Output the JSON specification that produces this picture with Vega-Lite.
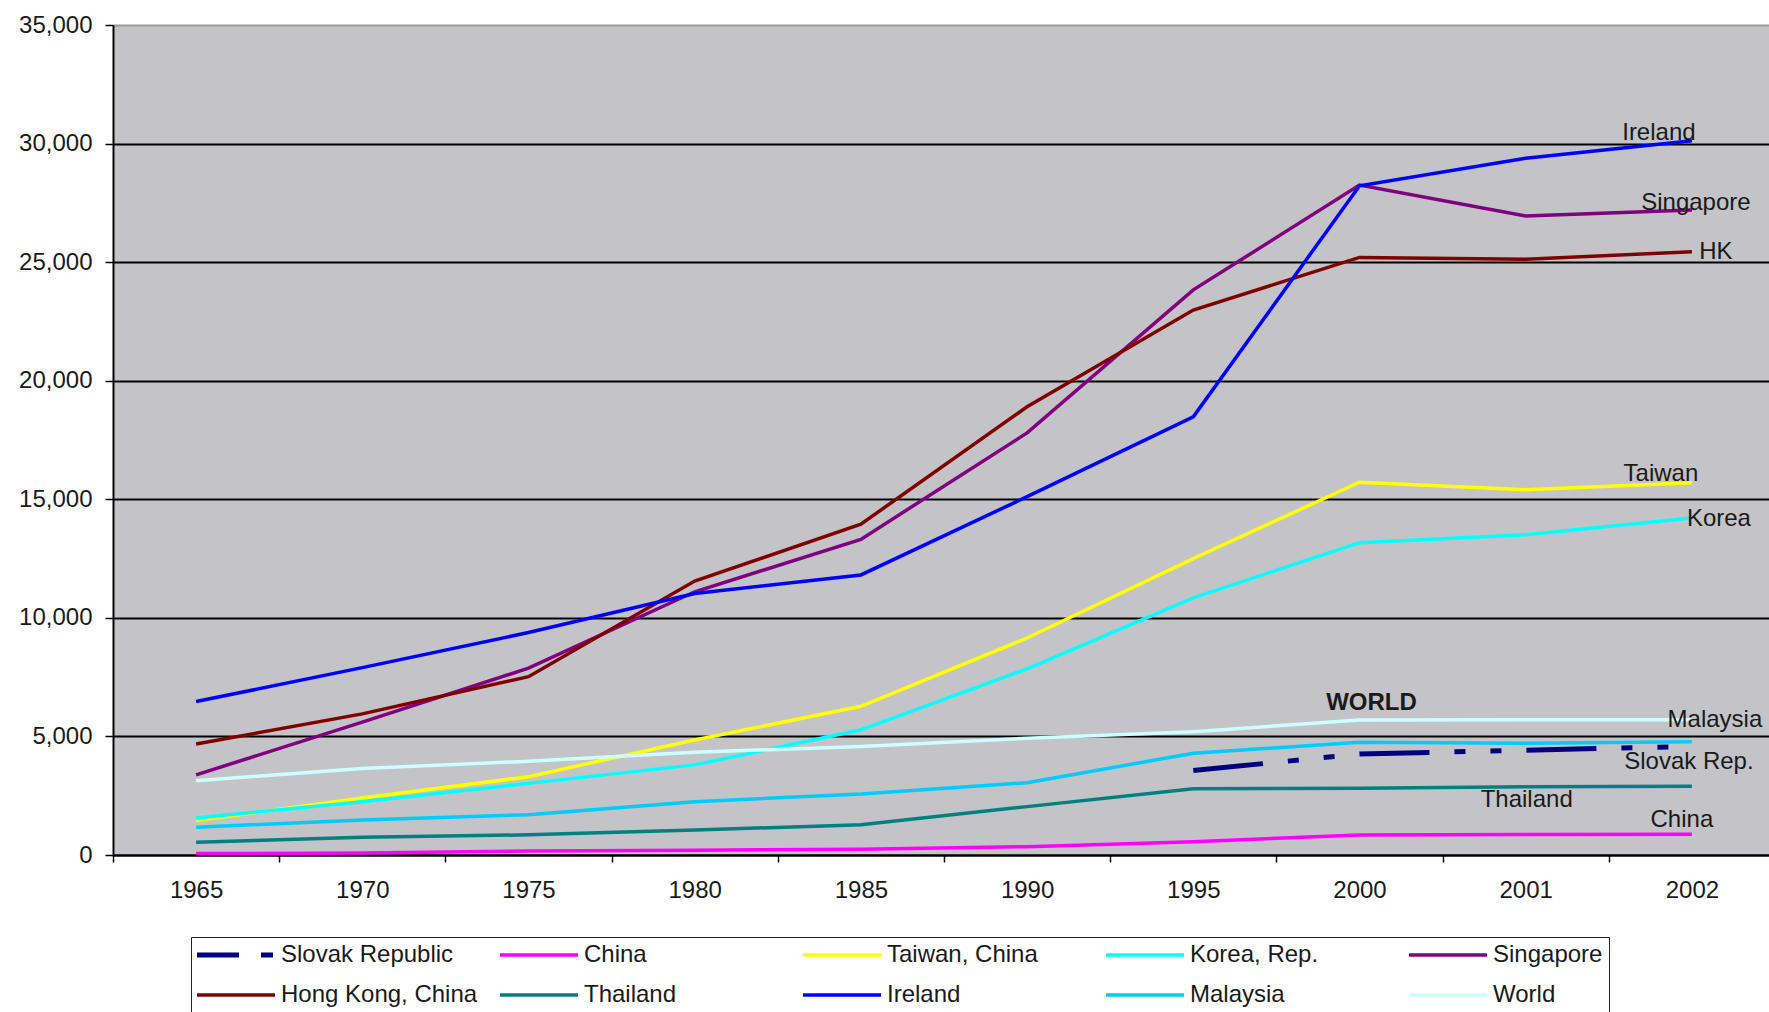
{
  "$schema": "https://vega.github.io/schema/vega-lite/v6.json",
  "width": 1656,
  "height": 830,
  "autosize": {"type": "none"},
  "padding": {"left": 113, "top": 25, "right": 0, "bottom": 157},
  "background": "white",
  "config": {
    "view": {"fill": "#C4C3C7", "stroke": null},
    "font": "Liberation Sans",
    "text": {"font": "Liberation Sans", "fontSize": 24, "color": "#1a1a1a"}
  },
  "datasets": {
    "gdp": [
      {"country": "Slovak Republic", "year": "1995", "gdp": 3560},
      {"country": "Slovak Republic", "year": "2000", "gdp": 4260},
      {"country": "Slovak Republic", "year": "2001", "gdp": 4420},
      {"country": "Slovak Republic", "year": "2002", "gdp": 4580},

      {"country": "China", "year": "1965", "gdp": 60},
      {"country": "China", "year": "1970", "gdp": 80},
      {"country": "China", "year": "1975", "gdp": 170},
      {"country": "China", "year": "1980", "gdp": 200},
      {"country": "China", "year": "1985", "gdp": 240},
      {"country": "China", "year": "1990", "gdp": 350},
      {"country": "China", "year": "1995", "gdp": 560},
      {"country": "China", "year": "2000", "gdp": 845},
      {"country": "China", "year": "2001", "gdp": 860},
      {"country": "China", "year": "2002", "gdp": 870},

      {"country": "Taiwan, China", "year": "1965", "gdp": 1450},
      {"country": "Taiwan, China", "year": "1970", "gdp": 2400},
      {"country": "Taiwan, China", "year": "1975", "gdp": 3300},
      {"country": "Taiwan, China", "year": "1980", "gdp": 4850},
      {"country": "Taiwan, China", "year": "1985", "gdp": 6270},
      {"country": "Taiwan, China", "year": "1990", "gdp": 9150},
      {"country": "Taiwan, China", "year": "1995", "gdp": 12500},
      {"country": "Taiwan, China", "year": "2000", "gdp": 15720},
      {"country": "Taiwan, China", "year": "2001", "gdp": 15400},
      {"country": "Taiwan, China", "year": "2002", "gdp": 15700},

      {"country": "Korea, Rep.", "year": "1965", "gdp": 1560},
      {"country": "Korea, Rep.", "year": "1970", "gdp": 2250},
      {"country": "Korea, Rep.", "year": "1975", "gdp": 3020},
      {"country": "Korea, Rep.", "year": "1980", "gdp": 3800},
      {"country": "Korea, Rep.", "year": "1985", "gdp": 5280},
      {"country": "Korea, Rep.", "year": "1990", "gdp": 7850},
      {"country": "Korea, Rep.", "year": "1995", "gdp": 10840},
      {"country": "Korea, Rep.", "year": "2000", "gdp": 13170},
      {"country": "Korea, Rep.", "year": "2001", "gdp": 13500},
      {"country": "Korea, Rep.", "year": "2002", "gdp": 14210},

      {"country": "Singapore", "year": "1965", "gdp": 3380},
      {"country": "Singapore", "year": "1970", "gdp": 5600},
      {"country": "Singapore", "year": "1975", "gdp": 7880},
      {"country": "Singapore", "year": "1980", "gdp": 11100},
      {"country": "Singapore", "year": "1985", "gdp": 13310},
      {"country": "Singapore", "year": "1990", "gdp": 17800},
      {"country": "Singapore", "year": "1995", "gdp": 23830},
      {"country": "Singapore", "year": "2000", "gdp": 28250},
      {"country": "Singapore", "year": "2001", "gdp": 26950},
      {"country": "Singapore", "year": "2002", "gdp": 27200},

      {"country": "Hong Kong, China", "year": "1965", "gdp": 4680},
      {"country": "Hong Kong, China", "year": "1970", "gdp": 5950},
      {"country": "Hong Kong, China", "year": "1975", "gdp": 7520},
      {"country": "Hong Kong, China", "year": "1980", "gdp": 11550},
      {"country": "Hong Kong, China", "year": "1985", "gdp": 13950},
      {"country": "Hong Kong, China", "year": "1990", "gdp": 18900},
      {"country": "Hong Kong, China", "year": "1995", "gdp": 22980},
      {"country": "Hong Kong, China", "year": "2000", "gdp": 25200},
      {"country": "Hong Kong, China", "year": "2001", "gdp": 25120},
      {"country": "Hong Kong, China", "year": "2002", "gdp": 25440},

      {"country": "Thailand", "year": "1965", "gdp": 540},
      {"country": "Thailand", "year": "1970", "gdp": 750},
      {"country": "Thailand", "year": "1975", "gdp": 850},
      {"country": "Thailand", "year": "1980", "gdp": 1050},
      {"country": "Thailand", "year": "1985", "gdp": 1280},
      {"country": "Thailand", "year": "1990", "gdp": 2040},
      {"country": "Thailand", "year": "1995", "gdp": 2790},
      {"country": "Thailand", "year": "2000", "gdp": 2810},
      {"country": "Thailand", "year": "2001", "gdp": 2880},
      {"country": "Thailand", "year": "2002", "gdp": 2900},

      {"country": "Ireland", "year": "1965", "gdp": 6470},
      {"country": "Ireland", "year": "1970", "gdp": 7900},
      {"country": "Ireland", "year": "1975", "gdp": 9380},
      {"country": "Ireland", "year": "1980", "gdp": 11030},
      {"country": "Ireland", "year": "1985", "gdp": 11810},
      {"country": "Ireland", "year": "1990", "gdp": 15110},
      {"country": "Ireland", "year": "1995", "gdp": 18480},
      {"country": "Ireland", "year": "2000", "gdp": 28220},
      {"country": "Ireland", "year": "2001", "gdp": 29380},
      {"country": "Ireland", "year": "2002", "gdp": 30120},

      {"country": "Malaysia", "year": "1965", "gdp": 1170},
      {"country": "Malaysia", "year": "1970", "gdp": 1480},
      {"country": "Malaysia", "year": "1975", "gdp": 1700},
      {"country": "Malaysia", "year": "1980", "gdp": 2250},
      {"country": "Malaysia", "year": "1985", "gdp": 2570},
      {"country": "Malaysia", "year": "1990", "gdp": 3050},
      {"country": "Malaysia", "year": "1995", "gdp": 4290},
      {"country": "Malaysia", "year": "2000", "gdp": 4750},
      {"country": "Malaysia", "year": "2001", "gdp": 4710},
      {"country": "Malaysia", "year": "2002", "gdp": 4780},

      {"country": "World", "year": "1965", "gdp": 3130},
      {"country": "World", "year": "1970", "gdp": 3650},
      {"country": "World", "year": "1975", "gdp": 3950},
      {"country": "World", "year": "1980", "gdp": 4330},
      {"country": "World", "year": "1985", "gdp": 4580},
      {"country": "World", "year": "1990", "gdp": 4920},
      {"country": "World", "year": "1995", "gdp": 5200},
      {"country": "World", "year": "2000", "gdp": 5690},
      {"country": "World", "year": "2001", "gdp": 5700},
      {"country": "World", "year": "2002", "gdp": 5700}
    ]
  },
  "encoding": {
    "x": {
      "field": "year",
      "type": "ordinal",
      "bandPosition": 0.5,
      "scale": {"type": "band", "paddingInner": 0, "paddingOuter": 0, "range": [0, 1662]},
      "axis": {
        "title": null,
        "labelAngle": 0,
        "tickBand": "extent",
        "labelFont": "Liberation Sans",
        "labelFontSize": 24,
        "labelColor": "#1a1a1a",
        "labelPadding": 16,
        "tickSize": 7,
        "tickColor": "black",
        "tickWidth": 1.5,
        "domainColor": "black",
        "domainWidth": 2,
        "grid": false
      }
    },
    "y": {
      "field": "gdp",
      "type": "quantitative",
      "scale": {"domain": [0, 35000], "nice": false},
      "axis": {
        "title": null,
        "values": [0, 5000, 10000, 15000, 20000, 25000, 30000, 35000],
        "format": ",d",
        "labelFont": "Liberation Sans",
        "labelFontSize": 24,
        "labelColor": "#1a1a1a",
        "labelPadding": 13,
        "tickSize": 8,
        "tickColor": "black",
        "tickWidth": 1.5,
        "domainColor": "black",
        "domainWidth": 2,
        "grid": true,
        "gridColor": {"condition": {"test": "datum.value === 35000", "value": "#9a9a9a"}, "value": "black"},
        "gridWidth": 2
      }
    }
  },
  "layer": [
    {
      "data": {"name": "gdp"},
      "transform": [{"filter": "datum.country !== 'Slovak Republic'"}],
      "mark": {"type": "line", "strokeWidth": 3.5},
      "encoding": {
        "color": {
          "field": "country",
          "type": "nominal",
          "scale": {
            "domain": ["Slovak Republic", "China", "Taiwan, China", "Korea, Rep.", "Singapore", "Hong Kong, China", "Thailand", "Ireland", "Malaysia", "World"],
            "range": ["#000080", "#FF00FF", "#FFFF00", "#00FFFF", "#800080", "#800000", "#008080", "#0000FF", "#00CCFF", "#CCFFFF"]
          },
          "legend": {
            "orient": "none",
            "legendX": 78,
            "legendY": 912,
            "direction": "horizontal",
            "columns": 5,
            "gridAlign": "all",
            "title": null,
            "symbolType": "stroke",
            "symbolSize": 6084,
            "symbolStrokeWidth": 3.5,
            "symbolOffset": 27,
            "labelFont": "Liberation Sans",
            "labelFontSize": 24,
            "labelColor": "#1a1a1a",
            "labelOffset": 33,
            "labelLimit": 400,
            "columnPadding": 15,
            "rowPadding": 16,
            "padding": 6,
            "strokeColor": "#222222",
            "fillColor": "white",
            "encode": {
              "symbols": {
                "update": {
                  "strokeDash": {"signal": "datum.value === 'Slovak Republic' ? [42, 22, 12, 100] : null"},
                  "strokeWidth": {"signal": "datum.value === 'Slovak Republic' ? 5 : 3.5"}
                }
              }
            }
          }
        }
      }
    },
    {
      "data": {"name": "gdp"},
      "transform": [{"filter": "datum.country === 'Slovak Republic'"}],
      "mark": {"type": "line", "strokeWidth": 5, "strokeDash": [70, 25, 11, 25, 11, 25], "strokeCap": "butt"},
      "encoding": {
        "color": {"field": "country", "type": "nominal"}
      }
    },
    {
      "data": {"values": [{"label": "Ireland", "year": "2002", "gdp": 30450}]},
      "mark": {"type": "text", "align": "center", "baseline": "middle", "dx": -33},
      "encoding": {"text": {"field": "label"}}
    },
    {
      "data": {"values": [{"label": "Singapore", "year": "2002", "gdp": 27490}]},
      "mark": {"type": "text", "align": "center", "baseline": "middle", "dx": 4},
      "encoding": {"text": {"field": "label"}}
    },
    {
      "data": {"values": [{"label": "HK", "year": "2002", "gdp": 25445}]},
      "mark": {"type": "text", "align": "center", "baseline": "middle", "dx": 24},
      "encoding": {"text": {"field": "label"}}
    },
    {
      "data": {"values": [{"label": "Taiwan", "year": "2002", "gdp": 16075}]},
      "mark": {"type": "text", "align": "center", "baseline": "middle", "dx": -31},
      "encoding": {"text": {"field": "label"}}
    },
    {
      "data": {"values": [{"label": "Korea", "year": "2002", "gdp": 14170}]},
      "mark": {"type": "text", "align": "center", "baseline": "middle", "dx": 27},
      "encoding": {"text": {"field": "label"}}
    },
    {
      "data": {"values": [{"label": "WORLD", "year": "2000", "gdp": 6415}]},
      "mark": {"type": "text", "align": "center", "baseline": "middle", "dx": 12, "fontWeight": "bold"},
      "encoding": {"text": {"field": "label"}}
    },
    {
      "data": {"values": [{"label": "Malaysia", "year": "2002", "gdp": 5700}]},
      "mark": {"type": "text", "align": "center", "baseline": "middle", "dx": 23},
      "encoding": {"text": {"field": "label"}}
    },
    {
      "data": {"values": [{"label": "Slovak Rep.", "year": "2002", "gdp": 3940}]},
      "mark": {"type": "text", "align": "center", "baseline": "middle", "dx": -3},
      "encoding": {"text": {"field": "label"}}
    },
    {
      "data": {"values": [{"label": "Thailand", "year": "2001", "gdp": 2320}]},
      "mark": {"type": "text", "align": "center", "baseline": "middle", "dx": 1},
      "encoding": {"text": {"field": "label"}}
    },
    {
      "data": {"values": [{"label": "China", "year": "2002", "gdp": 1470}]},
      "mark": {"type": "text", "align": "center", "baseline": "middle", "dx": -10},
      "encoding": {"text": {"field": "label"}}
    }
  ]
}
